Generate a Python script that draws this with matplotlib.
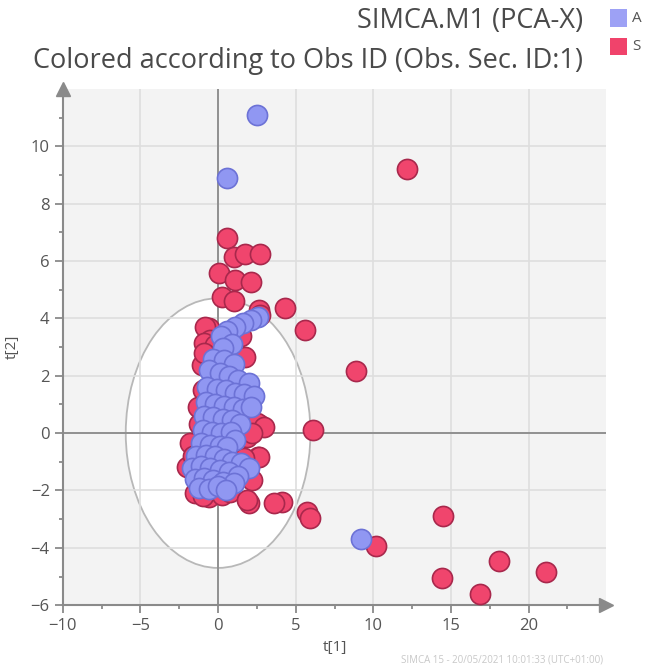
import matplotlib.pyplot as plt
from matplotlib.patches import Ellipse, Rectangle

plt.rcParams['font.family'] = ['Open Sans', 'DejaVu Sans']

# scores of class A (blue)
a_t1 = [2.6, 2.1, 1.6, 1.1, 0.6, 0.2, 0.9, 0.3,
        -0.3, 0.4, 1.0, -0.6, 0.1, 0.7, 1.3, 2.0, -0.7, -0.1, 0.5, 1.1, 1.7, 2.3,
        -0.8, -0.2, 0.4, 1.0, 1.6, 2.1, -0.9, -0.3, 0.3, 0.9, 1.4,
        -1.0, -0.4, 0.2, 0.8, 1.1, -1.1, -0.5, 0.1, 0.6,
        -1.4, -0.8, -0.2, 0.4, 0.9, 1.5, 2.0, -1.7, -1.1, -0.5, 0.1, 0.7, 1.3,
        -1.5, -0.9, -0.3, 0.3, 1.0, -1.2, -0.6, 0.0, 0.5,
        0.6, 2.5, 9.2]
a_t2 = [4.05, 3.95, 3.85, 3.7, 3.55, 3.4, 3.1, 2.95,
        2.6, 2.55, 2.4, 2.2, 2.1, 2.0, 1.85, 1.75, 1.6, 1.55, 1.5, 1.4, 1.35, 1.3,
        1.1, 1.0, 0.95, 0.9, 0.85, 0.9, 0.6, 0.55, 0.5, 0.45, 0.3,
        0.1, 0.05, 0.0, 0.05, -0.25, -0.35, -0.4, -0.45, -0.5,
        -0.8, -0.75, -0.8, -0.9, -1.0, -1.05, -1.2, -1.2, -1.15, -1.2, -1.3, -1.35, -1.5,
        -1.6, -1.55, -1.65, -1.7, -1.75, -1.9, -1.95, -1.85, -2.0,
        8.9, 11.1, -3.7]

# scores of class S (red)
s_t1 = [12.2, 8.9, 6.1, 5.6, 4.3, 14.5, 10.2, 14.4, 18.1, 16.9, 21.1,
        5.7, 5.9, 4.1, 3.6, 2.0, 2.6, 2.7,
        0.58, 1.03, 1.73, 2.69, 0.06, 1.09, 2.12, 0.26, 1.03, 2.63, -0.58,
        -0.83, -0.5, -0.9, -0.19, 1.73, -1.03, 2.7, -1.0, -1.2, -1.8, -2.0,
        2.5, 2.95, 1.86, 2.63, 1.67, 2.18, -1.47, -0.58, 0.26, 0.77, 1.86,
        -1.0, 2.2, 1.5, -1.3, -1.6, -0.9]
s_t2 = [9.2, 2.15, 0.1, 3.6, 4.35, -2.9, -3.95, -5.05, -4.45, -5.6, -4.85,
        -2.75, -2.95, -2.4, -2.45, -2.45, -0.85, 0.28,
        6.8, 6.13, 6.24, 6.24, 5.57, 5.33, 5.26, 4.74, 4.6, 4.29, 3.66,
        3.69, 3.24, 3.13, 3.07, 2.65, 2.37, 4.1, 1.5, 0.3, -0.35, -1.18,
        0.35, 0.21, -0.14, -0.84, -0.87, -1.64, -2.09, -2.23, -2.16, -2.06, -2.33,
        -2.2, 0.0, 3.4, 0.9, -0.8, 2.8]

blue, blue_edge = '#9097f2', '#6c72d6'
red, red_edge = '#f0456d', '#a8284c'
grey = '#8a8a8a'

fig = plt.figure(figsize=(6.69, 6.68), dpi=100)
ax = fig.add_axes([0.094, 0.094, 0.812, 0.773])
ax.set_facecolor('#f3f3f3')

ax.set_xlim(-10, 25)
ax.set_ylim(-6, 12)
ax.set_xticks([-10, -5, 0, 5, 10, 15, 20])
ax.set_xticks([-7.5, -2.5, 2.5, 7.5, 12.5, 17.5, 22.5], minor=True)
ax.set_yticks([-6, -4, -2, 0, 2, 4, 6, 8, 10])
ax.set_yticks([-5, -3, -1, 1, 3, 5, 7, 9, 11], minor=True)
ax.set_axisbelow(True)
ax.grid(True, which='major', color='#dedede', lw=1.2)

# Hotelling T2 ellipse
ax.add_patch(Ellipse((0, 0), 11.9, 9.4, facecolor='white', edgecolor='#b8b8b8',
                     lw=1.3, zorder=0))
ax.axhline(0, color=grey, lw=1.3, zorder=1)
ax.axvline(0, color=grey, lw=1.3, zorder=1)

ax.scatter(s_t1, s_t2, s=210, c=red, edgecolors=red_edge, linewidths=1.2, zorder=3)
ax.scatter(a_t1, a_t2, s=210, c=blue, edgecolors=blue_edge, linewidths=1.2, zorder=4)

for side in ['top', 'right']:
    ax.spines[side].set_visible(False)
for side in ['left', 'bottom']:
    ax.spines[side].set_color(grey)
    ax.spines[side].set_linewidth(1.5)
ax.tick_params(which='both', colors=grey, labelcolor='#555555', labelsize=12, width=1.3)
ax.tick_params(which='major', length=6)
ax.tick_params(which='minor', length=3)

# axis arrows
ax.plot([0], [1.0], marker='^', ms=10, color=grey, transform=ax.transAxes, clip_on=False)
ax.plot([1.0], [0], marker='>', ms=10, color=grey, transform=ax.transAxes, clip_on=False)

ax.set_xlabel('t[1]', fontsize=11, color='#555555', labelpad=4)
ax.set_ylabel('t[2]', fontsize=11, color='#555555', labelpad=8)

fig.text(0.872, 0.968, 'SIMCA.M1 (PCA-X)', ha='right', va='center', fontsize=19.5, color='#4a4a4a')
fig.text(0.872, 0.908, 'Colored according to Obs ID (Obs. Sec. ID:1)', ha='right', va='center',
         fontsize=19.5, color='#4a4a4a')

# legend
fig.patches.append(Rectangle((0.912, 0.960), 0.025, 0.026, transform=fig.transFigure,
                             facecolor='#9da1f5', edgecolor='none'))
fig.patches.append(Rectangle((0.912, 0.917), 0.025, 0.026, transform=fig.transFigure,
                             facecolor='#f0436b', edgecolor='none'))
fig.text(0.945, 0.973, 'A', ha='left', va='center', fontsize=11, color='#555555')
fig.text(0.945, 0.930, 'S', ha='left', va='center', fontsize=11, color='#555555')

fig.text(0.60, 0.012, 'SIMCA 15 - 20/05/2021 10:01:33 (UTC+01:00)', ha='left', va='center',
         fontsize=7, color='#c8c8c8')

fig.savefig('out.png', dpi=100)
